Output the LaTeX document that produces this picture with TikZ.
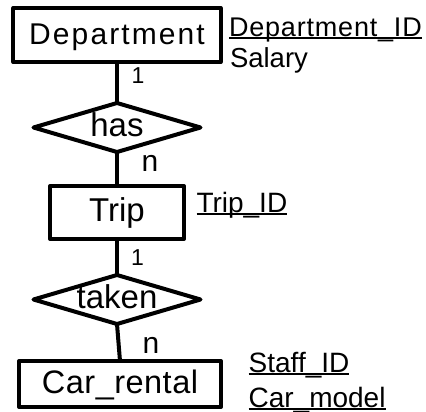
\documentclass[tikz,border=0pt]{standalone}
\usepackage{fontspec}
\setmainfont{Liberation Sans}
\newfontfamily\deptfont[LetterSpace=7]{Liberation Sans}
\newfontfamily\deptidfont[LetterSpace=3]{Liberation Sans}
\newfontfamily\carfont[LetterSpace=1.5]{Liberation Sans}
\usetikzlibrary{shapes.geometric}
\newcommand{\attrul}[1]{\setbox0\hbox{#1}\rlap{\usebox0}\rule[-2.6bp]{\wd0}{1.5bp}}
\tikzset{
  every node/.style={inner sep=0pt, outer sep=0pt},
  ent/.style={draw, line width=4bp, line join=round, rectangle,
    font=\fontsize{33bp}{36bp}\selectfont, text height=23bp, text depth=5bp},
  rel/.style={draw, line width=4bp, line join=round, diamond, aspect=3.4,
    minimum width=167bp, minimum height=49bp,
    font=\fontsize{33bp}{36bp}\selectfont, text height=23bp, text depth=5bp},
  conn/.style={line width=4bp},
  card/.style={anchor=base},
  one/.style={card, font=\fontsize{23bp}{24bp}\selectfont},
  many/.style={card, font=\fontsize{30bp}{30bp}\selectfont},
  attr/.style={anchor=base west, font=\fontsize{28bp}{30bp}\selectfont},
}
\begin{document}
\begin{tikzpicture}[x=1bp, y=-1bp]
\useasboundingbox (0,0) rectangle (426,412);
\node[ent, minimum width=207bp, minimum height=54bp, font=\deptfont\fontsize{30bp}{32bp}\selectfont] (dept) at (117,35) {Department};
\node[rel] (has) at (117,127.5) {\makebox[0pt]{has}};
\node[ent, minimum width=134bp, minimum height=53bp] (trip) at (117,212.5) {Trip};
\node[rel] (taken) at (117,299.5) {\makebox[0pt]{taken}};
\node[ent, minimum width=202bp, minimum height=46bp, font=\carfont\fontsize{32.5bp}{36bp}\selectfont] (car) at (120,384) {Car\_rental};

\draw[conn] (dept.south) -- (has.north);
\draw[conn] (has.south) -- (trip.north);
\draw[conn] (trip.south) -- (taken.north);
\draw[conn] (taken.south) -- (car.north);

\node[one] (c1) at (138,83) {1};
\node[many] (c2) at (150,171) {n};
\node[one] (c3) at (137.5,265) {1};
\node[many] (c4) at (151,353) {n};

\node[attr, font=\deptidfont\fontsize{27bp}{30bp}\selectfont] (a1) at (229,36) {\attrul{Department\_ID}};
\node[attr, font=\fontsize{27.5bp}{30bp}\selectfont] (a2) at (230,67) {Salary};
\node[attr] (a3) at (196.5,212) {\attrul{Trip\_ID}};
\node[attr] (a4) at (248.7,372) {\attrul{Staff\_ID}};
\node[attr] (a5) at (248.6,407) {\attrul{Car\_model}};
\end{tikzpicture}
\end{document}
